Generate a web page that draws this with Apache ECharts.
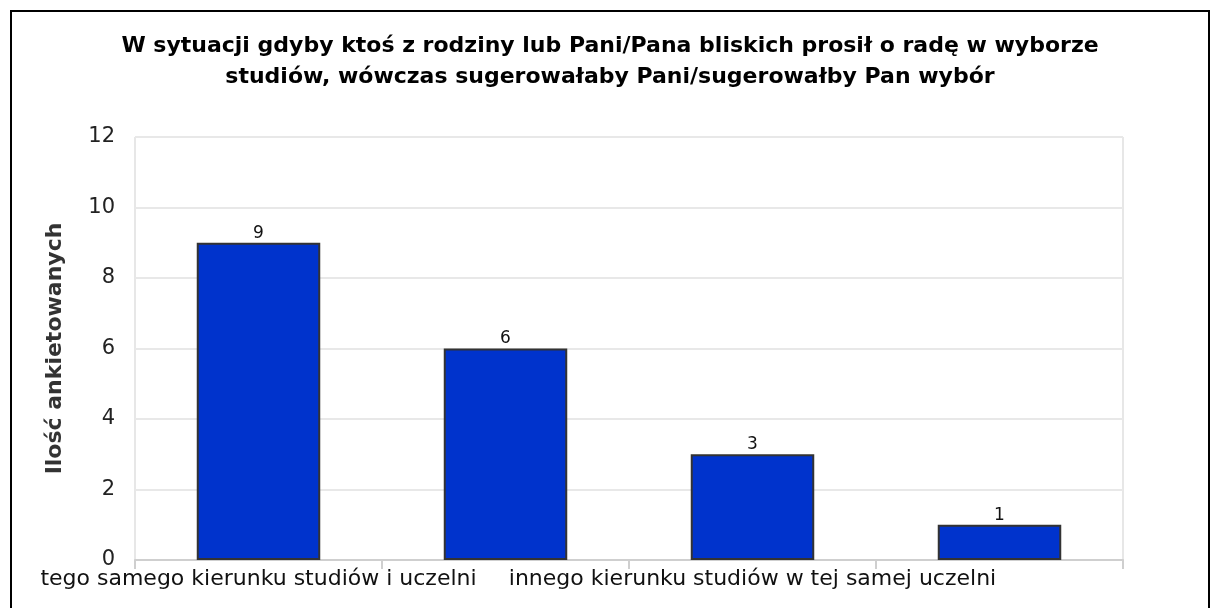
<!DOCTYPE html>
<html>
<head>
<meta charset="utf-8">
<script src="https://cdn.jsdelivr.net/npm/echarts@6/dist/echarts.min.js"></script>
<style>
  html, body { margin: 0; padding: 0; background: #fff; overflow: hidden; }
  #frame { position: absolute; left: 10px; top: 10px; width: 1196px; height: 640px; border: 2px solid #000; }
  #chart { position: absolute; left: 0; top: 0; width: 1217px; height: 608px; }
</style>
</head>
<body>
<div id="frame"></div>
<div id="chart"></div>
<script>
// data
const titleText = 'W sytuacji gdyby ktoś z rodziny lub Pani/Pana bliskich prosił o radę w wyborze\nstudiów, wówczas sugerowałaby Pani/sugerowałby Pan wybór'
const axisName = 'Ilość ankietowanych'
const categories = [
    'tego samego kierunku studiów i uczelni',
    'tego samego kierunku studiów w innej uczelni',
    'innego kierunku studiów w tej samej uczelni',
    'innego kierunku studiów w innej uczelni'
]
const counts = [9, 6, 3, 1]
const yTicks = [0, 2, 4, 6, 8, 10, 12]

var myChart = echarts.init(document.getElementById('chart'))
var option = {
    animation: false,
    title: {
        text: titleText,
        left: 605,
        top: 26,
        textAlign: 'center',
        textStyle: {
            fontFamily: 'DejaVu Sans',
            fontWeight: 'bold',
            fontSize: 22,
            lineHeight: 31,
            color: '#000'
        }
    },
    grid: {
        left: 135,
        right: 94,
        top: 137,
        bottom: 48,
        show: true,
        borderColor: '#cfcfcf',
        borderWidth: 1
    },
    xAxis: {
        type: 'category',
        data: categories,
        axisLine: { lineStyle: { color: '#cfcfcf', width: 2 } },
        axisTick: { show: true, interval: 0, length: 9, lineStyle: { color: '#cfcfcf', width: 2 } },
        axisLabel: {
            interval: 1,
            margin: 8,
            fontFamily: 'DejaVu Sans',
            fontSize: 22,
            color: '#111'
        }
    },
    yAxis: {
        type: 'value',
        min: yTicks[0],
        max: yTicks[yTicks.length - 1],
        interval: 2,
        name: axisName,
        nameLocation: 'middle',
        nameRotate: 90,
        nameGap: 69,
        nameTextStyle: {
            fontFamily: 'DejaVu Sans',
            fontWeight: 'bold',
            fontSize: 22,
            color: '#333'
        },
        axisLine: { show: false },
        axisTick: { show: false },
        axisLabel: {
            margin: 20,
            fontFamily: 'DejaVu Sans',
            fontSize: 21,
            color: '#222'
        },
        splitLine: { lineStyle: { color: '#e8e8e8', width: 2 } }
    },
    series: [{
        type: 'bar',
        data: counts,
        barWidth: '50%',
        itemStyle: { color: '#0033cc', borderColor: '#333', borderWidth: 2 },
        label: {
            show: true,
            position: 'top',
            distance: 1,
            fontFamily: 'DejaVu Sans',
            fontSize: 17,
            color: '#111'
        }
    }]
}
myChart.setOption(option)
</script>
</body>
</html>
